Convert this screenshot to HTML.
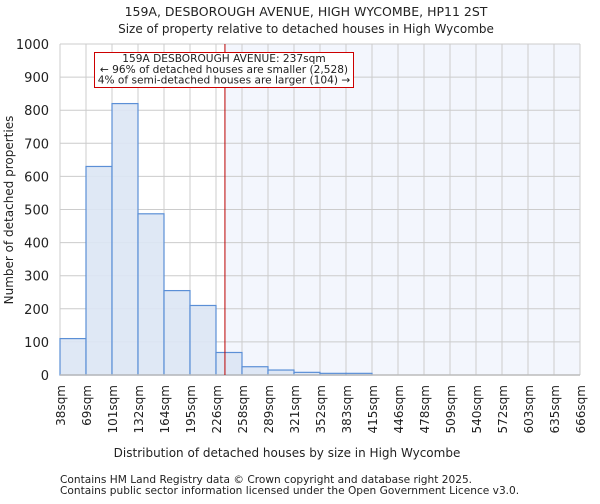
<!DOCTYPE html>
<html><head><meta charset="utf-8"><style>
body{margin:0;background:#fff;font-family:"DejaVu Sans","Liberation Sans",sans-serif;}
text{font-family:"DejaVu Sans","Liberation Sans",sans-serif;fill:#222;}
</style></head><body>
<svg id="c" width="600" height="500">
<text x="306" y="16" font-size="12.5" text-anchor="middle">159A, DESBOROUGH AVENUE, HIGH WYCOMBE, HP11 2ST</text>
<text x="306" y="33" font-size="12" text-anchor="middle">Size of property relative to detached houses in High Wycombe</text>
<text x="287" y="457" font-size="12" text-anchor="middle">Distribution of detached houses by size in High Wycombe</text>
<text transform="translate(13,210) rotate(-90)" font-size="12" text-anchor="middle">Number of detached properties</text>
<text x="60" y="483" font-size="10.6">Contains HM Land Registry data © Crown copyright and database right 2025.</text>
<text x="60" y="494" font-size="10.6">Contains public sector information licensed under the Open Government Licence v3.0.</text>
<g id="plot"></g>
</svg>
<script>
const labels=["38sqm","69sqm","101sqm","132sqm","164sqm","195sqm","226sqm","258sqm","289sqm","321sqm","352sqm","383sqm","415sqm","446sqm","478sqm","509sqm","540sqm","572sqm","603sqm","635sqm","666sqm"];
const counts=[110,630,820,487,255,210,68,25,15,8,5,5,0,0,0,0,0,0,0,0];
const yTicks=[0,100,200,300,400,500,600,700,800,900,1000];
const propertySize=237;
const binEdges=[38,69,101,132,164,195,226,258,289,321,352,383,415,446,478,509,540,572,603,635,666];
const L=60,R=580,T=44,B=375,bw=(R-L)/counts.length;
const y=v=>B-(v/1000)*(B-T);
const xi=i=>L+i*bw;
function xv(v){for(let i=0;i<binEdges.length-1;i++){if(v<=binEdges[i+1])return xi(i)+(v-binEdges[i])/(binEdges[i+1]-binEdges[i])*bw;}return R;}
const g=document.getElementById('plot');const NS="http://www.w3.org/2000/svg";
function mk(t,a){const e=document.createElementNS(NS,t);for(const k in a)e.setAttribute(k,a[k]);g.appendChild(e);return e;}
let e;
e=mk('rect',{x:L,y:T,width:R-L,height:B-T,fill:'#fff'});


const px=xv(propertySize);
e=mk('rect',{x:px,y:T,width:R-px,height:B-T,fill:'#f3f6fd'});


yTicks.forEach(t=>{
 e=mk('line',{x1:L,x2:R,y1:y(t),y2:y(t),stroke:'#ccc','stroke-width':1});
 
 
 e=mk('text',{x:L-11,y:y(t)+5,'font-size':13,'text-anchor':'end'});e.textContent=t;
 
 
});
labels.forEach((l,i)=>{
 e=mk('line',{x1:xi(i),x2:xi(i),y1:T,y2:B,stroke:'#ccc','stroke-width':1});
 
 
 e=mk('text',{transform:`translate(${xi(i)+5},${B+10}) rotate(-90)`,'font-size':12,'text-anchor':'end'});e.textContent=l;
 
 
});
counts.forEach((c,i)=>{
 if(c<=0)return;
 e=mk('rect',{x:xi(i),y:y(c),width:bw,height:B-y(c),fill:'#dce6f4',stroke:'#5b8fd6','stroke-width':1.2,'fill-opacity':0.9});
 
 
});
e=mk('line',{x1:L,x2:R,y1:B,y2:B,stroke:'#bbb','stroke-width':1.5});


e=mk('line',{x1:px,x2:px,y1:T,y2:B,stroke:'#b00','stroke-width':1});


e=mk('rect',{x:94.5,y:52.5,width:259,height:35,fill:'#fff',stroke:'#c00','stroke-width':1});


[["159A DESBOROUGH AVENUE: 237sqm",62],["← 96% of detached houses are smaller (2,528)",73],["4% of semi-detached houses are larger (104) →",83.5]].forEach(([t,yy])=>{
 e=mk('text',{x:224,y:yy,'font-size':10.6,'text-anchor':'middle'});e.textContent=t;
 
 
});
</script>
</body></html>
